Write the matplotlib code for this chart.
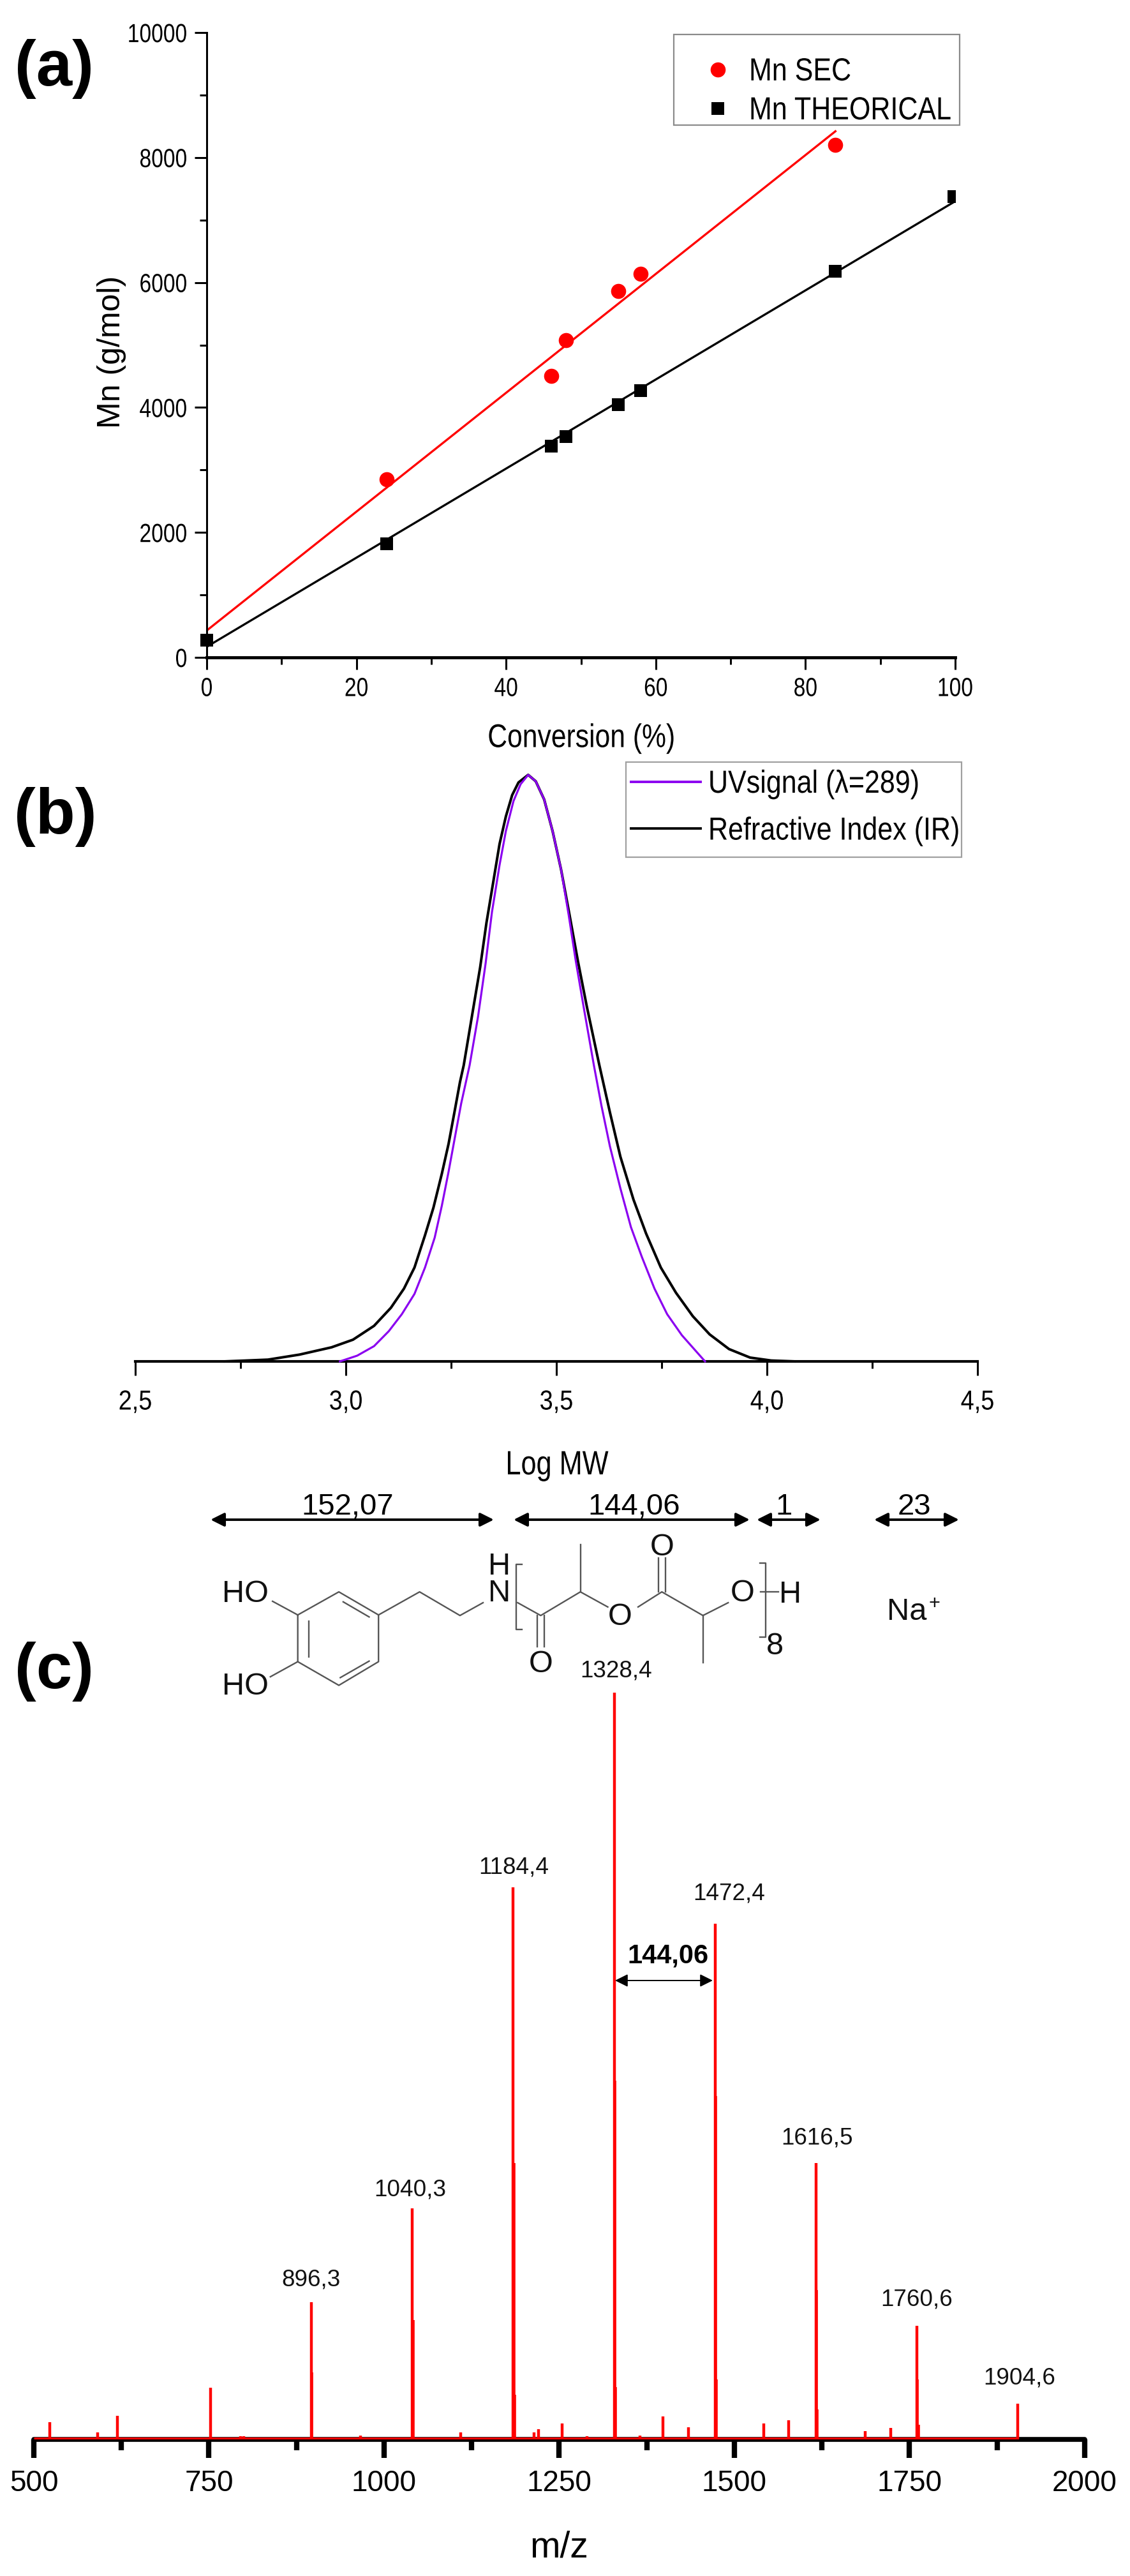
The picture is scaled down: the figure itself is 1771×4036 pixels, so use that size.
import matplotlib
matplotlib.use("Agg")
import matplotlib.pyplot as plt
from matplotlib.lines import Line2D
from matplotlib.patches import Rectangle
from matplotlib.patheffects import AbstractPathEffect
from matplotlib.ticker import FixedLocator, FixedFormatter
from matplotlib.transforms import Affine2D

W, H = 1771, 4037
ARIAL = ["Liberation Sans", "DejaVu Sans"]

# ===== Panel a data =====
conv_sec = [24, 46, 48, 55, 58, 84]
mn_sec = [2850, 4500, 5080, 5860, 6140, 8200]
conv_theo = [0, 24, 46, 48, 55, 58, 84, 99.8]
mn_theo = [280, 1820, 3380, 3530, 4050, 4270, 6180, 7370]
fit_sec_x = [0, 84]
fit_sec_y = [430, 8420]
fit_theo_x = [0, 100]
fit_theo_y = [170, 7300]

# ===== Panel b data =====
ri_x = [2.713, 2.815, 2.890, 2.966, 3.017, 3.067, 3.107, 3.138, 3.163, 3.188, 3.208,
        3.228, 3.244, 3.259, 3.271, 3.280, 3.299, 3.319, 3.334, 3.350, 3.365, 3.380,
        3.395, 3.410, 3.433, 3.451, 3.471, 3.491, 3.511, 3.531, 3.551, 3.572, 3.602,
        3.627, 3.652, 3.683, 3.713, 3.748, 3.784, 3.824, 3.864, 3.910, 3.960, 4.010, 4.065]
ri_y = [0, .003, .0116, .024, .037, .0606, .0914, .124, .160, .215, .262,
        .320, .371, .429, .476, .505, .5865, .672, .748, .817, .882, .929,
        .9655, .987, 1, .989, .958, .904, .839, .762, .683, .606, .505,
        .425, .349, .276, .218, .160, .117, .077, .046, .021, .0065, .0015, 0]
uv_x = [2.986, 3.027, 3.067, 3.102, 3.133, 3.163, 3.188, 3.211, 3.228, 3.244, 3.259,
        3.274, 3.294, 3.314, 3.332, 3.347, 3.365, 3.380, 3.398, 3.415, 3.433, 3.451,
        3.471, 3.491, 3.511, 3.529, 3.546, 3.566, 3.589, 3.607, 3.627, 3.652, 3.677,
        3.703, 3.733, 3.763, 3.798, 3.853]
uv_y = [0, .0098, .026, .0515, .0805, .115, .160, .211, .2655, .3235, .382,
        .44, .505, .588, .679, .766, .846, .904, .955, .984, 1, .989,
        .958, .904, .839, .762, .683, .599, .505, .436, .367, .295, .229,
        .178, .124, .0805, .0446, 0]

# ===== Panel c data =====
peak_mz = [523, 591, 619, 752, 795, 800, 896.3, 966, 1040.3, 1109, 1184.4, 1214,
           1220, 1254, 1290, 1328.4, 1365, 1398, 1434, 1472.4, 1542, 1577,
           1616.5, 1687, 1723, 1760.6, 1904.6]
peak_int = [2.3, 0.9, 3.2, 6.9, 0.4, 0.4, 18.4, 0.5, 30.9, 0.9, 73.9, 0.9,
            1.4, 2.1, 0.4, 100, 0.5, 3.1, 1.6, 69.1, 2.1, 2.6,
            37.0, 1.1, 1.5, 15.2, 4.8]
isotope_mz = [897.5, 1041.5, 1185.5, 1186.8, 1329.5, 1330.8, 1473.5, 1474.8, 1617.5, 1618.8, 1761.5, 1763]
isotope_int = [9, 16, 37, 6, 48, 7, 46, 8, 20, 4, 8, 2]
label_text = ["896,3", "1040,3", "1184,4", "1328,4", "1472,4", "1616,5", "1760,6", "1904,6"]
label_x = [488, 643, 805, 966, 1143, 1281, 1437, 1598]
label_y = [3572, 3431, 2926, 2618, 2967, 3350, 3603, 3726]


# no condensed face installed, so squeeze the glyph outlines at draw time
class Squeeze(AbstractPathEffect):
    def __init__(self, sx, cx):
        super().__init__()
        self.sx = sx
        self.cx = cx

    def draw_path(self, renderer, gc, tpath, affine, rgbFace=None):
        a = affine + Affine2D().translate(-self.cx, 0).scale(self.sx, 1).translate(self.cx, 0)
        renderer.draw_path(gc, tpath, a, rgbFace)


def px_axes(fig, left, right, top, bottom):
    return fig.add_axes([left / W, 1 - bottom / H, (right - left) / W, (bottom - top) / H])


fig = plt.figure(figsize=(W / 100, H / 100), dpi=100, facecolor="white")
to_squeeze = []

# ===== Chart a: Mn vs conversion =====
ax = px_axes(fig, 324, 1497, 52, 1031)
ax.plot(fit_sec_x, fit_sec_y, color="#ff0000", lw=2.4, zorder=2)
ax.plot(fit_theo_x, fit_theo_y, color="black", lw=2.4, zorder=2)
ax.plot(conv_sec, mn_sec, "o", color="#ff0000", ms=17, mew=0, zorder=3)
ax.plot(conv_theo[:-1], mn_theo[:-1], "s", color="black", ms=14, mew=0, zorder=3, clip_on=False)
ax.plot(conv_theo[-1:], mn_theo[-1:], "s", color="black", ms=14, mew=0, zorder=3)
ax.set_xlim(0, 100)
ax.set_ylim(0, 10000)
ax.spines["top"].set_visible(False)
ax.spines["right"].set_visible(False)
ax.spines["left"].set_linewidth(2.2)
ax.spines["bottom"].set_linewidth(3.5)
ax.set_xticks(range(0, 101, 20))
ax.set_xticks(range(10, 100, 20), minor=True)
ax.set_yticks(range(0, 10001, 2000))
ax.set_yticks(range(1000, 10000, 2000), minor=True)
ax.tick_params(which="major", length=14, width=2.2, labelsize=29.5, pad=8)
ax.tick_params(which="minor", length=8, width=2.2)
for t in ax.get_xticklabels():
    t.set_family(ARIAL)
    to_squeeze.append((t, 0.82, "center"))
for t in ax.get_yticklabels():
    t.set_family(ARIAL)
    to_squeeze.append((t, 0.82, "right"))

leg_handles = [
    Line2D([], [], ls="none", marker="o", color="#ff0000", ms=17, mew=0),
    Line2D([], [], ls="none", marker="s", color="black", ms=14, mew=0),
]
leg = fig.legend(
    leg_handles, ["Mn SEC", "Mn THEORICAL"],
    loc="upper left", bbox_to_anchor=(1100 / W, 1 - 91 / H),
    frameon=False, borderaxespad=0, borderpad=0, labelspacing=0.3,
    handlelength=1.0, handletextpad=0.48,
    prop={"family": ARIAL, "size": 36},
)
for t in leg.get_texts():
    to_squeeze.append((t, 0.86, "left"))

# ===== Chart b: SEC traces =====
ax = px_axes(fig, 212, 1532, 1215, 2134)
ax.plot(ri_x, ri_y, color="black", lw=2.9, zorder=2, clip_on=False)
ax.plot(uv_x, uv_y, color="#8b00f0", lw=2.3, zorder=3, clip_on=False)
ax.set_xlim(2.5, 4.5)
ax.set_ylim(0, 1)
for s in ["top", "right", "left"]:
    ax.spines[s].set_visible(False)
ax.spines["bottom"].set_linewidth(3.0)
ax.set_yticks([])
ax.xaxis.set_major_locator(FixedLocator([2.5, 3.0, 3.5, 4.0, 4.5]))
ax.xaxis.set_major_formatter(FixedFormatter(["2,5", "3,0", "3,5", "4,0", "4,5"]))
ax.xaxis.set_minor_locator(FixedLocator([2.75, 3.25, 3.75, 4.25]))
ax.tick_params(which="major", length=16, width=2.2, labelsize=31, pad=16)
ax.tick_params(which="minor", length=8, width=2.2)
for t in ax.get_xticklabels():
    t.set_family(ARIAL)
    to_squeeze.append((t, 0.88, "center"))

leg = fig.legend(
    [Line2D([], [], color="#8b00f0", lw=2.8), Line2D([], [], color="black", lw=2.8)],
    ["UVsignal (\u03bb=289)", "Refractive Index (IR)"],
    loc="upper left", bbox_to_anchor=(989 / W, 1 - 1207 / H),
    frameon=False, borderaxespad=0, borderpad=0, labelspacing=0.55,
    handlelength=2.18, handletextpad=0.24,
    prop={"family": ARIAL, "size": 36},
)
for t in leg.get_texts():
    to_squeeze.append((t, 0.86, "left"))

# ===== Chart c: mass spectrum =====
ax = px_axes(fig, 53, 1700, 2653, 3823)
ax.spines["bottom"].set_linewidth(5.5)
ax.spines["bottom"].set_capstyle("round")
for s in ["top", "right", "left"]:
    ax.spines[s].set_visible(False)
ax.hlines(0.2, 500, 1905, color="#ff0000", lw=2.2, zorder=4, clip_on=False)
ax.vlines(peak_mz, 0, peak_int, color="#ff0000", lw=3.2, zorder=5)
ax.vlines(isotope_mz, 0, isotope_int, color="#ff0000", lw=2.6, zorder=5)
ax.set_xlim(500, 2000)
ax.set_ylim(0, 100)
ax.set_yticks([])
ax.set_xticks(range(500, 2001, 250))
ax.set_xticks(range(625, 2000, 250), minor=True)
ax.tick_params(which="major", length=21, width=6, labelsize=33, pad=12)
ax.tick_params(which="minor", length=12, width=6)
for t in ax.get_xticklabels():
    t.set_family(ARIAL)

# ===== Overlay in pixel coordinates: labels, arrows, structure =====
ov = fig.add_axes([0, 0, 1, 1], facecolor="none", zorder=10)
ov.set_xlim(0, W)
ov.set_ylim(H, 0)
ov.axis("off")

ov.add_patch(Rectangle((1056, 55), 448, 142, fill=False, ec="#8a8a8a", lw=1.6))
ov.add_patch(Rectangle((981, 1195), 526, 149, fill=False, ec="#a0a0a0", lw=1.6))

for s, x, y in [("(a)", 85, 108), ("(b)", 87, 1280), ("(c)", 85, 2619)]:
    ov.text(x, y, s, fontsize=73, fontweight="bold", family=ARIAL, ha="center", va="center")

ov.text(175, 551, "Mn (g/mol)", fontsize=36, family=ARIAL, rotation=90, ha="center", va="center")
t = ov.text(911, 1158, "Conversion (%)", fontsize=37, family=ARIAL, ha="center", va="center")
to_squeeze.append((t, 0.83, "center"))
t = ov.text(873, 2297, "Log MW", fontsize=38, family=ARIAL, ha="center", va="center")
to_squeeze.append((t, 0.82, "center"))
ov.text(876, 3992, "m/z", fontsize=41, family=ARIAL, ha="center", va="center")

for s, x, y in zip(label_text, label_x, label_y):
    ov.text(x, y, s, fontsize=26.6, family=ARIAL, ha="center", va="center", color="#111111")


def double_arrow(x0, x1, y, lw, scale):
    ov.annotate("", xy=(x1, y), xytext=(x0, y),
                arrowprops=dict(arrowstyle="<|-|>", color="black", lw=lw,
                                mutation_scale=scale, shrinkA=0, shrinkB=0))


for x0, x1 in [(330, 774), (805, 1175), (1186, 1286), (1370, 1503)]:
    double_arrow(x0, x1, 2382, 2.8, 32)
for s, x in [("152,07", 545), ("144,06", 994), ("1", 1229), ("23", 1433)]:
    ov.text(x, 2361, s, fontsize=34, family=ARIAL, ha="center", va="center")
double_arrow(964, 1117, 3104, 1.4, 30)
ov.text(1047, 3065, "144,06", fontsize=30, fontweight="bold", family=ARIAL, ha="center", va="center")


def mx(v):
    return v / 0.885


def my(v):
    return 2300 + v / 2.24


bonds = [
    [(413, 518), (470, 437), (525, 518), (525, 682), (470, 765), (413, 682), (413, 518)],
    [(476, 472), (512, 525)], [(428, 540), (428, 665)], [(472, 738), (512, 680)],
    [(378, 470), (413, 518)], [(375, 735), (413, 682)],
    [(525, 518), (582, 437), (638, 520), (670, 475)],
    [(718, 475), (750, 520), (805, 437), (843, 490)], [(805, 437), (805, 272)],
    [(745, 520), (745, 630)], [(755, 520), (755, 630)],
    [(885, 490), (918, 437), (975, 520), (1010, 475)], [(975, 520), (975, 685)],
    [(913, 437), (913, 318)], [(923, 437), (923, 318)],
    [(1055, 437), (1080, 437)],
    [(724, 340), (716, 340), (716, 570), (724, 570)],
    [(1054, 335), (1062, 335), (1062, 595), (1054, 595)],
]
for pts in bonds:
    ov.plot([mx(p[0]) for p in pts], [my(p[1]) for p in pts], color="#555555", lw=1.7)

atoms = [("HO", 340, 442), ("HO", 340, 768), ("N", 693, 440), ("H", 693, 345), ("O", 750, 688),
         ("O", 860, 522), ("O", 918, 278), ("O", 1030, 440), ("H", 1096, 445), ("8", 1075, 625),
         ("Na", 1258, 505)]
for s, x, y in atoms:
    ov.text(mx(x), my(y), s, fontsize=35, family=ARIAL, ha="center", va="center", color="#111111")
ov.text(mx(1296), my(478), "+", fontsize=22, family=ARIAL, ha="center", va="center", color="#111111")

# anchors need the final layout
fig.canvas.draw()
renderer = fig.canvas.get_renderer()
for t, sx, where in to_squeeze:
    bb = t.get_window_extent(renderer)
    cx = {"left": bb.x0, "right": bb.x1, "center": (bb.x0 + bb.x1) / 2}[where]
    t.set_path_effects([Squeeze(sx, cx)])

fig.savefig("out.png", dpi=100, facecolor="white")
